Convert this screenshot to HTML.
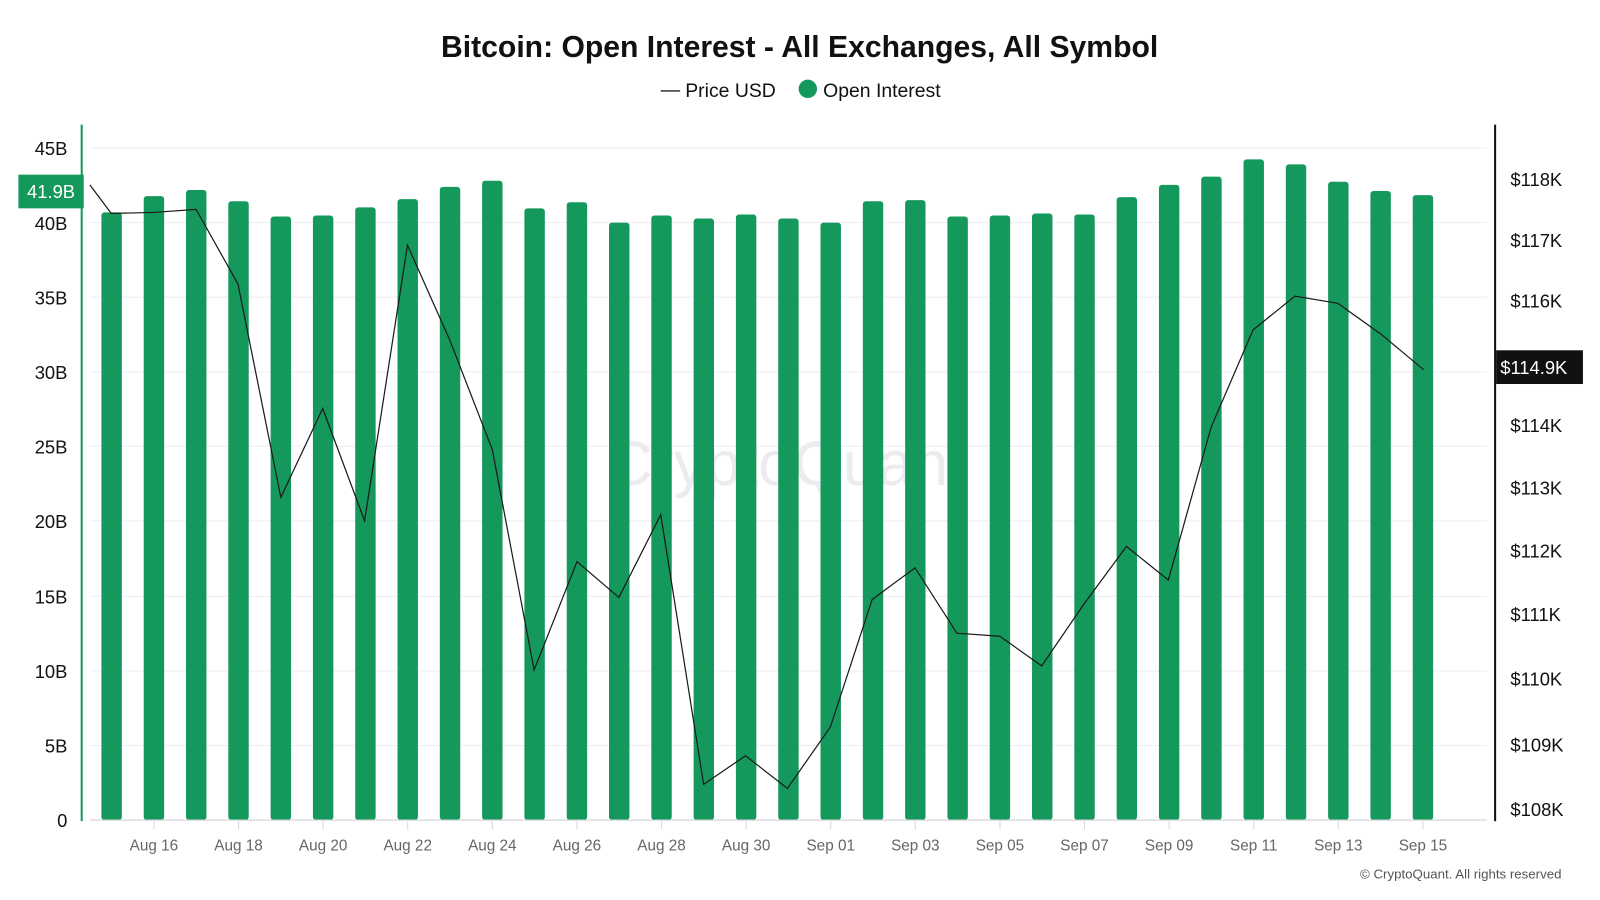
<!DOCTYPE html>
<html><head><meta charset="utf-8"><style>
html,body{margin:0;padding:0;background:#fff;}
svg{display:block;font-family:"Liberation Sans",sans-serif;}
</style></head><body>
<svg width="1600" height="900" viewBox="0 0 1566.7 881.25" xmlns="http://www.w3.org/2000/svg">
<rect width="1566.7" height="881.25" fill="#fff"/>
<text x="783" y="56" text-anchor="middle" font-size="29.5" font-weight="bold" fill="#111">Bitcoin: Open Interest - All Exchanges, All Symbol</text>
<line x1="647" y1="89" x2="666" y2="89" stroke="#222" stroke-width="1.3"/>
<text x="671" y="95" font-size="19" fill="#111">Price USD</text>
<circle cx="791" cy="87" r="9" fill="#14985c"/>
<text x="806" y="95" font-size="19" fill="#111">Open Interest</text>
<g stroke="#eeeef2" stroke-width="1">
<line x1="88" y1="145" x2="1456" y2="145"/><line x1="88" y1="218" x2="1456" y2="218"/>
<line x1="88" y1="291" x2="1456" y2="291"/><line x1="88" y1="364" x2="1456" y2="364"/>
<line x1="88" y1="437" x2="1456" y2="437"/><line x1="88" y1="510" x2="1456" y2="510"/>
<line x1="88" y1="584" x2="1456" y2="584"/><line x1="88" y1="657" x2="1456" y2="657"/>
<line x1="88" y1="730" x2="1456" y2="730"/>
</g>
<text x="770" y="475" text-anchor="middle" font-size="62" fill="#ececf0">CryptoQuant</text>
<g fill="#14985c">
<rect x="99.3" y="208" width="20" height="595" rx="3"/>
<rect x="140.72" y="192" width="20" height="611" rx="3"/>
<rect x="182.14" y="186" width="20" height="617" rx="3"/>
<rect x="223.56" y="197" width="20" height="606" rx="3"/>
<rect x="264.98" y="212" width="20" height="591" rx="3"/>
<rect x="306.4" y="211" width="20" height="592" rx="3"/>
<rect x="347.82" y="203" width="20" height="600" rx="3"/>
<rect x="389.24" y="195" width="20" height="608" rx="3"/>
<rect x="430.66" y="183" width="20" height="620" rx="3"/>
<rect x="472.08" y="177" width="20" height="626" rx="3"/>
<rect x="513.5" y="204" width="20" height="599" rx="3"/>
<rect x="554.92" y="198" width="20" height="605" rx="3"/>
<rect x="596.34" y="218" width="20" height="585" rx="3"/>
<rect x="637.76" y="211" width="20" height="592" rx="3"/>
<rect x="679.18" y="214" width="20" height="589" rx="3"/>
<rect x="720.6" y="210" width="20" height="593" rx="3"/>
<rect x="762.02" y="214" width="20" height="589" rx="3"/>
<rect x="803.44" y="218" width="20" height="585" rx="3"/>
<rect x="844.86" y="197" width="20" height="606" rx="3"/>
<rect x="886.28" y="196" width="20" height="607" rx="3"/>
<rect x="927.7" y="212" width="20" height="591" rx="3"/>
<rect x="969.12" y="211" width="20" height="592" rx="3"/>
<rect x="1010.54" y="209" width="20" height="594" rx="3"/>
<rect x="1051.96" y="210" width="20" height="593" rx="3"/>
<rect x="1093.38" y="193" width="20" height="610" rx="3"/>
<rect x="1134.8" y="181" width="20" height="622" rx="3"/>
<rect x="1176.22" y="173" width="20" height="630" rx="3"/>
<rect x="1217.64" y="156" width="20" height="647" rx="3"/>
<rect x="1259.06" y="161" width="20" height="642" rx="3"/>
<rect x="1300.48" y="178" width="20" height="625" rx="3"/>
<rect x="1341.9" y="187" width="20" height="616" rx="3"/>
<rect x="1383.32" y="191" width="20" height="612" rx="3"/>
</g>
<rect x="88" y="803" width="1370" height="10" fill="#fff"/>
<line x1="88" y1="803" x2="1456" y2="803" stroke="#d6d6de" stroke-width="1.2"/>
<line x1="80" y1="122" x2="80" y2="804" stroke="#14985c" stroke-width="2"/>
<line x1="1464" y1="122" x2="1464" y2="804" stroke="#111" stroke-width="2"/>
<polyline fill="none" stroke="#1a1a1a" stroke-width="1.2" points="88,181 109,209 150,208 192,205 233,278 275,487 316,400 357,510 399,240 440,332 482,440 523,656 565,550 606,585 647,504 689,768 730,740 771,772 813,712 854,587 896,556 937,620 979,623 1020,652 1061,592 1103,535 1144,568 1186,418 1227,323 1268,290 1310,297 1352,327 1394,362"/>
<g font-size="18" fill="#111" text-anchor="end">
<text x="66" y="152">45B</text><text x="66" y="225">40B</text><text x="66" y="298">35B</text>
<text x="66" y="371">30B</text><text x="66" y="444">25B</text><text x="66" y="517">20B</text>
<text x="66" y="591">15B</text><text x="66" y="664">10B</text><text x="66" y="737">5B</text>
<text x="66" y="810">0</text>
</g>
<rect x="18" y="171" width="64" height="33" fill="#14985c"/>
<text x="50" y="194" text-anchor="middle" font-size="18" fill="#fff">41.9B</text>
<g font-size="18" fill="#111">
<text x="1479" y="182">$118K</text><text x="1479" y="242">$117K</text><text x="1479" y="301">$116K</text>
<text x="1479" y="423">$114K</text><text x="1479" y="484">$113K</text><text x="1479" y="546">$112K</text>
<text x="1479" y="608">$111K</text><text x="1479" y="671">$110K</text><text x="1479" y="736">$109K</text>
<text x="1479" y="799">$108K</text>
</g>
<rect x="1465" y="343" width="85" height="33" fill="#111"/>
<text x="1469" y="366" font-size="18" fill="#fff">$114.9K</text>
<g stroke="#d6d6de" stroke-width="1">
<line x1="150.72" y1="804" x2="150.72" y2="812"/><line x1="233.56" y1="804" x2="233.56" y2="812"/>
<line x1="316.4" y1="804" x2="316.4" y2="812"/><line x1="399.24" y1="804" x2="399.24" y2="812"/>
<line x1="482.08" y1="804" x2="482.08" y2="812"/><line x1="564.92" y1="804" x2="564.92" y2="812"/>
<line x1="647.76" y1="804" x2="647.76" y2="812"/><line x1="730.6" y1="804" x2="730.6" y2="812"/>
<line x1="813.44" y1="804" x2="813.44" y2="812"/><line x1="896.28" y1="804" x2="896.28" y2="812"/>
<line x1="979.12" y1="804" x2="979.12" y2="812"/><line x1="1061.96" y1="804" x2="1061.96" y2="812"/>
<line x1="1144.8" y1="804" x2="1144.8" y2="812"/><line x1="1227.64" y1="804" x2="1227.64" y2="812"/>
<line x1="1310.48" y1="804" x2="1310.48" y2="812"/><line x1="1393.32" y1="804" x2="1393.32" y2="812"/>
</g>
<g font-size="15" fill="#666" text-anchor="middle">
<text x="150.72" y="833">Aug 16</text><text x="233.56" y="833">Aug 18</text>
<text x="316.4" y="833">Aug 20</text><text x="399.24" y="833">Aug 22</text>
<text x="482.08" y="833">Aug 24</text><text x="564.92" y="833">Aug 26</text>
<text x="647.76" y="833">Aug 28</text><text x="730.6" y="833">Aug 30</text>
<text x="813.44" y="833">Sep 01</text><text x="896.28" y="833">Sep 03</text>
<text x="979.12" y="833">Sep 05</text><text x="1061.96" y="833">Sep 07</text>
<text x="1144.8" y="833">Sep 09</text><text x="1227.64" y="833">Sep 11</text>
<text x="1310.48" y="833">Sep 13</text><text x="1393.32" y="833">Sep 15</text>
</g>
<text x="1529" y="860" text-anchor="end" font-size="13" fill="#555">© CryptoQuant. All rights reserved</text>
</svg>
</body></html>
